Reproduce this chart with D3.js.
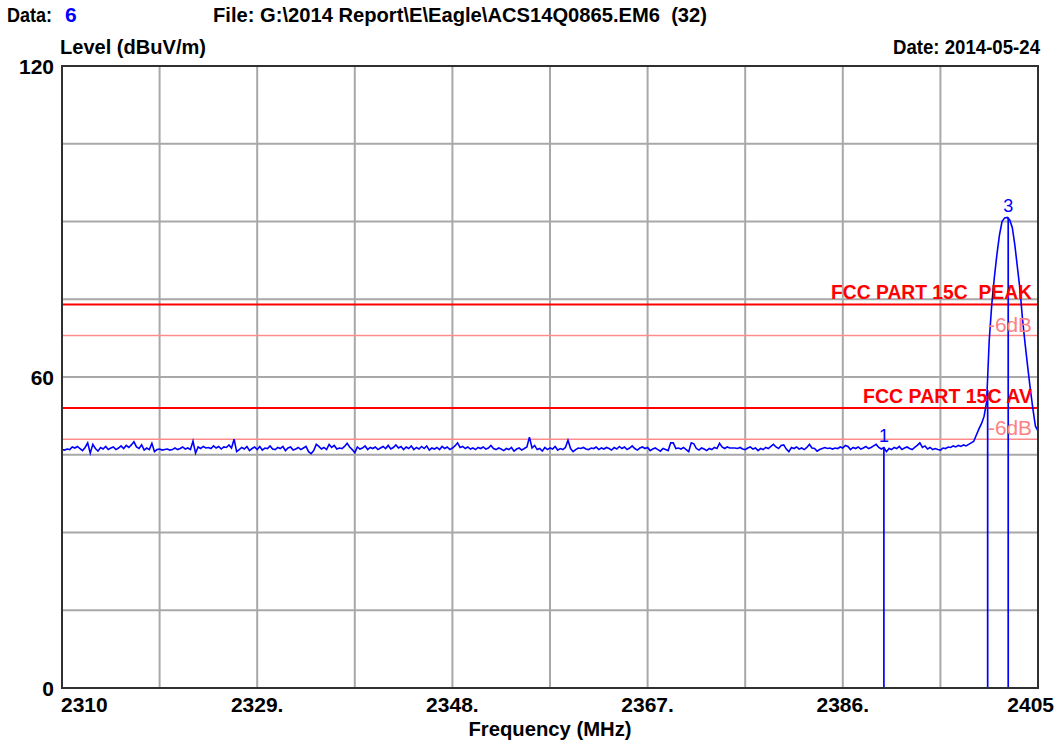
<!DOCTYPE html>
<html>
<head>
<meta charset="utf-8">
<script src="https://cdn.jsdelivr.net/npm/d3@7"></script>
<style>
  html, body { margin: 0; padding: 0; background: #fff; }
  svg { display: block; }
  text { font-family: "Liberation Sans", Arial, sans-serif; }
</style>
</head>
<body>
<svg id="chart" width="1062" height="745"></svg>
<script>
// ---------------- data ----------------
const freqStart = 2310;   // MHz
const freqStep = 0.25;    // MHz between trace points

// noise floor, 2310 .. 2398.5 MHz (dBuV/m)
const noiseLevels = [
  46.0,45.9,46.1,46.0,46.5,46.3,46.6,46.2,45.8,46.4,47.3,45.3,47.0,46.2,45.7,46.4,46.1,46.6,46.0,46.3,
  46.5,46.0,46.3,46.7,46.2,46.8,46.4,46.9,47.5,46.5,46.2,46.9,45.9,46.3,46.0,47.2,45.6,46.0,46.1,45.9,
  46.0,46.1,45.9,46.0,46.3,46.0,46.2,46.5,46.1,46.3,46.0,47.6,45.3,46.5,46.2,46.6,46.3,46.4,46.2,46.7,
  46.3,46.6,46.1,46.5,46.4,46.9,46.3,48.0,45.6,46.0,46.4,46.1,46.6,45.8,46.2,46.5,46.0,46.6,45.9,46.3,
  46.2,46.7,46.1,46.0,46.4,46.2,46.6,45.8,46.3,46.5,45.9,46.1,46.4,46.0,46.3,46.6,45.6,45.2,45.8,47.0,
  46.6,46.1,46.4,46.0,47.0,46.4,46.8,46.1,46.3,46.2,46.6,47.2,46.5,46.0,45.4,46.5,46.1,46.3,46.7,46.0,
  46.4,46.2,46.5,46.0,46.3,46.6,46.2,46.8,46.1,46.4,46.9,46.3,46.6,46.0,46.5,46.2,46.7,46.0,46.4,46.1,
  46.6,46.2,46.7,45.9,46.3,46.1,46.4,46.0,46.6,46.2,46.5,46.0,46.3,46.7,47.3,46.4,46.6,46.2,46.5,46.1,
  46.3,46.0,46.4,46.2,46.5,46.1,46.3,46.8,46.2,46.0,46.3,46.1,45.8,46.2,46.0,46.4,45.7,46.1,46.3,45.9,
  46.2,46.5,48.4,46.3,46.8,46.0,46.2,45.7,46.4,46.0,46.3,46.1,46.6,45.9,46.2,46.0,46.4,47.8,46.2,45.6,
  46.0,46.3,46.2,46.4,46.1,46.0,46.3,46.2,46.5,46.0,46.3,46.1,46.4,46.2,45.9,46.4,46.1,46.6,46.2,46.5,
  46.0,46.3,46.7,46.2,45.9,46.3,46.5,46.2,46.4,45.8,46.1,46.3,46.0,45.7,46.2,46.0,45.8,47.3,47.3,46.2,
  46.3,46.1,46.4,46.0,45.6,47.3,47.1,46.2,45.9,46.3,46.1,45.8,46.2,46.0,46.4,46.2,47.2,46.5,46.2,46.5,
  46.3,46.3,46.3,46.2,46.4,46.1,46.0,46.3,46.5,46.1,46.3,45.8,46.2,46.0,46.4,46.2,46.6,47.0,46.5,46.2,
  46.8,46.9,46.1,45.6,46.4,46.2,46.5,46.1,46.3,46.0,46.4,47.0,46.3,46.2,45.7,46.0,46.2,46.4,46.2,46.3,
  46.1,46.3,46.2,46.5,46.3,46.8,46.6,46.0,46.4,46.2,46.5,46.1,46.3,46.6,46.2,46.4,46.7,47.0,46.4,46.1,
  46.4,45.6,46.2,46.0,46.4,46.2,46.6,46.0,46.3,46.5,46.2,46.0,46.4,46.8,47.3,46.4,46.7,46.1,46.4,46.0,
  46.2,46.0,45.9,46.3,46.2,46.5,46.4,46.7,46.5,46.8,46.6,46.9,46.7,47.0,47.3
];
// emission, 2398.75 .. 2405 MHz (dBuV/m)
const peakLevels = [
  47.6,48.8,50.0,51.0,52.4,55.2,67.0,74.0,79.2,83.6,87.4,90.0,90.7,90.8,90.3,88.8,
  85.4,81.1,76.8,71.0,66.3,61.9,57.7,53.9,50.5,49.6
];

const markerFreqs  = [2390, 2400.1, 2402.1];
const markerLevels = [46.4, 57.5, 90.8];
const markerLabels = ["1", "", "3"];

const limitNames  = ["FCC PART 15C  PEAK", "FCC PART 15C AV"];
const limitLevels = [74, 54];
const marginLabel = "-6dB";
const marginDb = 6;

const xTickValues = [2310, 2329, 2348, 2367, 2386, 2405];
const xTickLabels = ["2310", "2329.", "2348.", "2367.", "2386.", "2405"];
const yTickValues = [0, 60, 120];

// ---------------- layout ----------------
const svg = d3.select("#chart");
const L = 62, R = 1038, T = 66, B = 688;
const x = d3.scaleLinear().domain([2310, 2405]).range([L, R]);
const y = d3.scaleLinear().domain([0, 120]).range([B, T]);

const traceLevels = noiseLevels.concat(peakLevels);
const trace = traceLevels.map((v, i) => ({ f: freqStart + i * freqStep, v }));

// grid
const xGrid = d3.range(0, 11).map(i => 2310 + i * 9.5);
const yGrid = d3.range(0, 9).map(i => i * 15);
svg.append("g").selectAll("line").data(xGrid.slice(1, -1)).join("line")
  .attr("x1", d => x(d)).attr("x2", d => x(d)).attr("y1", T).attr("y2", B)
  .attr("stroke", "#a8a8a8").attr("stroke-width", 2);
svg.append("g").selectAll("line").data(yGrid.slice(1, -1)).join("line")
  .attr("y1", d => y(d)).attr("y2", d => y(d)).attr("x1", L).attr("x2", R)
  .attr("stroke", "#a8a8a8").attr("stroke-width", 2);

// limit lines
const lim = svg.append("g");
limitLevels.forEach((lv, i) => {
  lim.append("line").attr("x1", L).attr("x2", R).attr("y1", y(lv - marginDb)).attr("y2", y(lv - marginDb))
    .attr("stroke", "#ff8c8c").attr("stroke-width", 1.6);
  lim.append("line").attr("x1", L).attr("x2", R).attr("y1", y(lv)).attr("y2", y(lv))
    .attr("stroke", "#ff0000").attr("stroke-width", 2);
});

// trace
const line = d3.line().x(d => x(d.f)).y(d => y(d.v));
svg.append("path").datum(trace).attr("d", line)
  .attr("fill", "none").attr("stroke", "#0000ff").attr("stroke-width", 1.6)
  .attr("stroke-linejoin", "miter");

// markers
const mk = svg.append("g");
markerFreqs.forEach((f, i) => {
  mk.append("line").attr("x1", x(f)).attr("x2", x(f)).attr("y1", B).attr("y2", y(markerLevels[i]))
    .attr("stroke", "#0000ff").attr("stroke-width", 1.7);
  if (markerLabels[i]) {
    mk.append("text").attr("x", x(f)).attr("y", y(markerLevels[i]) - 5)
      .attr("text-anchor", "middle").attr("font-size", 18).attr("fill", "#0000ff")
      .text(markerLabels[i]);
  }
});

// limit labels
const limLabelW = [201, 169];
limitLevels.forEach((lv, i) => {
  svg.append("text").attr("x", 1032).attr("y", y(lv) - 5)
    .attr("text-anchor", "end").attr("font-size", 21).attr("font-weight", "bold")
    .attr("fill", "#ff0000").style("white-space", "pre")
    .attr("textLength", limLabelW[i]).attr("lengthAdjust", "spacingAndGlyphs")
    .text(limitNames[i]);
  svg.append("text").attr("x", 1032).attr("y", y(lv - marginDb) - 4)
    .attr("text-anchor", "end").attr("font-size", 20)
    .attr("fill", "#ff8080")
    .attr("textLength", 44).attr("lengthAdjust", "spacingAndGlyphs")
    .text(marginLabel);
});

// frame
svg.append("rect").attr("x", L).attr("y", T).attr("width", R - L).attr("height", B - T)
  .attr("fill", "none").attr("stroke", "#303030").attr("stroke-width", 2);

// axes labels
const bold = sel => sel.attr("font-weight", "bold").attr("font-size", 21).attr("fill", "#000");
svg.append("g").selectAll("text").data(yTickValues).join("text")
  .attr("x", 54).attr("y", d => y(d) + 8).attr("text-anchor", "end")
  .call(bold).text(d => d);

svg.append("g").selectAll("text").data(xTickValues).join("text")
  .attr("x", (d, i) => i === 0 ? x(d) - 1 : (i === xTickValues.length - 1 ? x(d) + 16 : x(d)))
  .attr("y", 712)
  .attr("text-anchor", (d, i) => i === 0 ? "start" : (i === xTickValues.length - 1 ? "end" : "middle"))
  .call(bold).text((d, i) => xTickLabels[i]);

svg.append("text").attr("x", (L + R) / 2).attr("y", 736).attr("text-anchor", "middle")
  .call(bold).attr("textLength", 163).attr("lengthAdjust", "spacingAndGlyphs")
  .text("Frequency (MHz)");

svg.append("text").attr("x", 60).attr("y", 54).call(bold)
  .attr("textLength", 146).attr("lengthAdjust", "spacingAndGlyphs")
  .text("Level (dBuV/m)");

svg.append("text").attr("x", 1040).attr("y", 54).attr("text-anchor", "end").call(bold)
  .attr("textLength", 147).attr("lengthAdjust", "spacingAndGlyphs")
  .text("Date: 2014-05-24");

svg.append("text").attr("x", 7).attr("y", 22).call(bold)
  .attr("textLength", 45).attr("lengthAdjust", "spacingAndGlyphs")
  .text("Data:");
svg.append("text").attr("x", 65).attr("y", 22).call(bold).attr("fill", "#0000ff").text("6");

svg.append("text").attr("x", 213).attr("y", 22).call(bold).style("white-space", "pre")
  .attr("textLength", 494).attr("lengthAdjust", "spacingAndGlyphs")
  .text("File: G:\\2014 Report\\E\\Eagle\\ACS14Q0865.EM6  (32)");
</script>
</body>
</html>
